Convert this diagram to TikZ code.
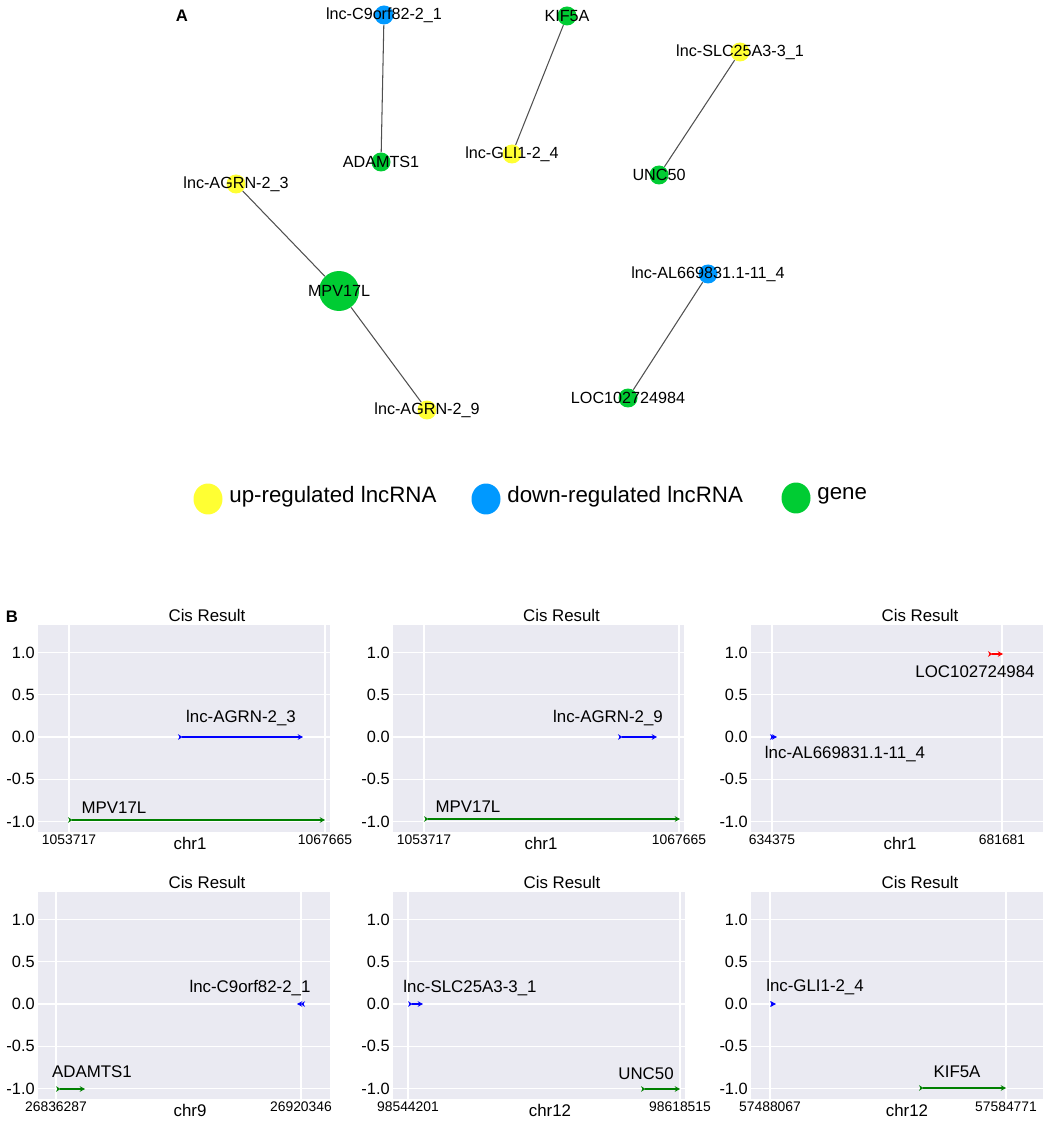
\documentclass[tikz,border=0pt]{standalone}
\usepackage{fontspec}
\setmainfont{Liberation Sans}
\usetikzlibrary{arrows.meta, shapes.geometric}

\definecolor{upyel}{RGB}{255,255,51}
\definecolor{downblu}{RGB}{0,153,255}
\definecolor{genegrn}{RGB}{0,204,51}
\definecolor{edgegray}{RGB}{80,80,80}
\definecolor{cisbg}{RGB}{234,234,242}
\definecolor{cisgrn}{RGB}{0,128,0}

\tikzset{
  netnode/.style={circle, inner sep=0pt, minimum size=0.38cm},
  uplnc/.style={netnode, fill=upyel},
  downlnc/.style={netnode, fill=downblu},
  gene/.style={netnode, fill=genegrn},
  netlbl/.style={font=\fontsize{9.2}{11}\selectfont},
  netedge/.style={draw=edgegray, line width=0.6pt},
  legmark/.style={ellipse, inner sep=0pt, minimum width=0.58cm, minimum height=0.62cm},
  legtxt/.style={anchor=west, inner sep=0pt, font=\fontsize{12.7}{15}\selectfont},
  panlbl/.style={font=\bfseries\fontsize{9.5}{11}\selectfont},
  cistitle/.style={font=\fontsize{9.6}{11}\selectfont},
  cisytick/.style={anchor=east, inner sep=0pt, font=\fontsize{9.3}{11}\selectfont},
  cisxtick/.style={font=\fontsize{7.9}{9}\selectfont},
  cislbl/.style={font=\fontsize{9.6}{11}\selectfont},
  cisarrow/.style={line width=0.9pt, arrows={Stealth[reversed,length=2.5pt,width=3.2pt]-Stealth[length=3pt,width=3.2pt]}},
}

\begin{document}
\begin{tikzpicture}[x=0.02cm, y=-0.02cm]
\useasboundingbox (0,0) rectangle (1043,1121);

\node[panlbl] (lblA) at (182,16) {A};

\node[downlnc, label={[netlbl]center:lnc-C9orf82-2\_1}] (c9orf) at (384,15) {};
\node[gene, label={[netlbl]center:ADAMTS1}] (adamts) at (381,162) {};
\node[gene, label={[netlbl]center:KIF5A}] (kif) at (567,16) {};
\node[uplnc, label={[netlbl]center:lnc-GLI1-2\_4}] (gli) at (512,154) {};
\node[uplnc, label={[netlbl]center:lnc-SLC25A3-3\_1}] (slc) at (740,52) {};
\node[gene, label={[netlbl]center:UNC50}] (unc) at (659,175) {};
\node[uplnc, label={[netlbl]center:lnc-AGRN-2\_3}] (agrnA) at (236,184) {};
\node[gene, minimum size=0.8cm, label={[netlbl]center:MPV17L}] (mpv) at (339,291) {};
\node[uplnc, label={[netlbl]center:lnc-AGRN-2\_9}] (agrnB) at (427,410) {};
\node[downlnc, label={[netlbl]center:lnc-AL669831.1-11\_4}] (al669) at (708,274) {};
\node[gene, label={[netlbl]center:LOC102724984}] (loc) at (628,398) {};

\draw[netedge]
(c9orf) -- (adamts)
(kif) -- (gli)
(slc) -- (unc)
(agrnA) -- (mpv)
(mpv) -- (agrnB)
(al669) -- (loc);

\node[legmark, fill=upyel] (legup) at (208,499) {};
\node[legtxt] (legupt) at (229,497) {up-regulated lncRNA};
\node[legmark, fill=downblu] (legdown) at (486,499) {};
\node[legtxt] (legdownt) at (507,497) {down-regulated lncRNA};
\node[legmark, fill=genegrn] (leggene) at (796,498) {};
\node[legtxt] (leggenet) at (817,496) {gene};

\node[panlbl] (lblB) at (12,617) {B};

\foreach \l/\r/\z/\ta/\la/\tb/\lb/\chr/\cx in {
  38/330/737/69/1053717/325/1067665/chr1/190,
  393/684/737/424/1053717/679/1067665/chr1/541,
  751/1043/737/772/634375/1002/681681/chr1/900,
  38/330/1004/56/26836287/301/26920346/chr9/190,
  393/685/1004/408/98544201/680/98618515/chr12/550,
  751/1043/1004/770/57488067/1006/57584771/chr12/907}{
  \fill[cisbg] (\l,\z-112) rectangle (\r,\z+95);
  \foreach \v/\t in {1/1.0, 0.5/0.5, 0/0.0, -0.5/-0.5, -1/-1.0}{
    \draw[white, line width=0.7pt] (\l,\z-\v*84.5) -- (\r,\z-\v*84.5);
    \node[cisytick] at (\l-3,\z-\v*84.5) {\t};
  }
  \draw[white, line width=0.7pt] (\ta,\z-112) -- (\ta,\z+95);
  \draw[white, line width=0.7pt] (\tb,\z-112) -- (\tb,\z+95);
  \node[cistitle] at ({(\l+\r)/2+23},\z-122) {Cis Result};
  \node[cisxtick] at (\ta,\z+103) {\la};
  \node[cisxtick] at (\tb,\z+103) {\lb};
  \node[cistitle] at (\cx,\z+106) {\chr};
}

\coordinate (a3s) at (178,737);
\coordinate (a3e) at (303,737);
\coordinate (mp1s) at (68,820);
\coordinate (mp1e) at (325,820);
\draw[cisarrow, blue] (a3s) -- (a3e);
\draw[cisarrow, cisgrn] (mp1s) -- (mp1e);
\node[cislbl] (a3l) at (241,718) {lnc-AGRN-2\_3};
\node[cislbl] (mp1l) at (114,808) {MPV17L};

\coordinate (a9s) at (618,737);
\coordinate (a9e) at (657,737);
\coordinate (mp2s) at (424,819);
\coordinate (mp2e) at (680,819);
\draw[cisarrow, blue] (a9s) -- (a9e);
\draw[cisarrow, cisgrn] (mp2s) -- (mp2e);
\node[cislbl] (a9l) at (608,718) {lnc-AGRN-2\_9};
\node[cislbl] (mp2l) at (468,807) {MPV17L};

\coordinate (als) at (770,737);
\coordinate (ale) at (777,737);
\coordinate (locs) at (988,654);
\coordinate (loce) at (1003,654);
\draw[cisarrow, blue] (als) -- (ale);
\draw[cisarrow, red] (locs) -- (loce);
\node[cislbl] (all) at (845,754) {lnc-AL669831.1-11\_4};
\node[cislbl] (locl) at (975,672) {LOC102724984};

\coordinate (c9s) at (305,1004);
\coordinate (c9e) at (297,1004);
\coordinate (ads) at (56,1089);
\coordinate (ade) at (85,1089);
\draw[cisarrow, blue] (c9s) -- (c9e);
\draw[cisarrow, cisgrn] (ads) -- (ade);
\node[cislbl] (c9l) at (250,988) {lnc-C9orf82-2\_1};
\node[cislbl] (adl) at (92,1072) {ADAMTS1};

\coordinate (slcs) at (408,1004);
\coordinate (slce) at (423,1004);
\coordinate (uncs) at (641,1089);
\coordinate (unce) at (680,1089);
\draw[cisarrow, blue] (slcs) -- (slce);
\draw[cisarrow, cisgrn] (uncs) -- (unce);
\node[cislbl] (slcl) at (470,988) {lnc-SLC25A3-3\_1};
\node[cislbl] (uncl) at (646,1074) {UNC50};

\coordinate (glis) at (770,1004);
\coordinate (glie) at (776,1004);
\coordinate (kifs) at (919,1088);
\coordinate (kife) at (1006,1088);
\draw[cisarrow, blue] (glis) -- (glie);
\draw[cisarrow, cisgrn] (kifs) -- (kife);
\node[cislbl] (glil) at (815,987) {lnc-GLI1-2\_4};
\node[cislbl] (kifl) at (957,1072) {KIF5A};
\end{tikzpicture}
\end{document}
